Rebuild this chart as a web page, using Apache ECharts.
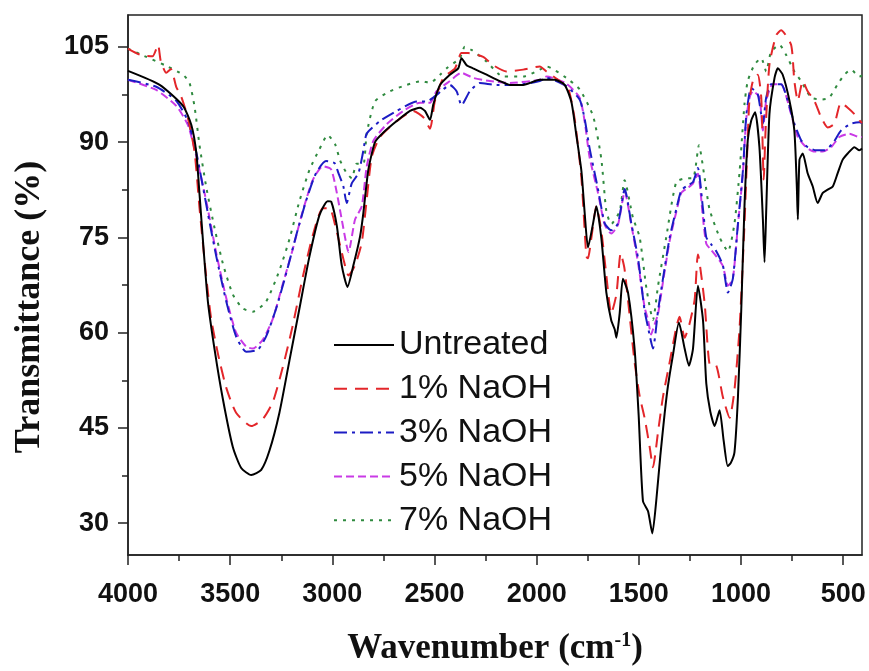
<!DOCTYPE html>
<html>
<head>
<meta charset="utf-8">
<script src="https://cdn.jsdelivr.net/npm/echarts@6/dist/echarts.min.js"></script>
<style>
html,body{margin:0;padding:0;background:#fff;}
#chart{width:869px;height:671px;}
</style>
</head>
<body>
<div id="chart"></div>
<script>
const seriesNames = ['Untreated', '1% NaOH', '3% NaOH', '5% NaOH', '7% NaOH'];
const xMajorTicks = [4000, 3500, 3000, 2500, 2000, 1500, 1000, 500];
const xMinorTicks = [3750, 3250, 2750, 2250, 1750, 1250, 750];
const yMajorTicks = [30, 45, 60, 75, 90, 105];
const yMinorTicks = [37.5, 52.5, 67.5, 82.5, 97.5];

const untreated = [[4000,101.2],[3845,99.0],[3731,95.7],[3690,92.7],[3666,88.4],[3650,81.8],[3630,73.1],[3609,64.9],[3576,57.3],[3536,49.6],[3487,42.0],[3446,38.7],[3397,37.6],[3348,38.4],[3308,41.4],[3259,47.4],[3210,55.6],[3161,63.8],[3112,72.0],[3063,78.5],[3023,80.7],[3005,80.6],[2978,76.8],[2954,70.6],[2926,67.2],[2897,70.6],[2864,75.2],[2848,78.9],[2824,85.6],[2791,90.0],[2750,91.5],[2685,93.3],[2620,94.9],[2571,95.4],[2547,94.9],[2522,93.5],[2506,95.9],[2473,99.0],[2425,100.6],[2384,101.6],[2368,103.2],[2343,102.1],[2311,101.6],[2245,100.6],[2180,99.6],[2131,99.0],[2066,99.0],[1985,99.8],[1912,99.8],[1863,99.0],[1830,96.3],[1806,91.1],[1781,85.4],[1765,78.8],[1749,73.4],[1724,77.2],[1708,79.9],[1684,75.0],[1659,66.3],[1635,61.9],[1618,60.5],[1610,59.2],[1594,63.0],[1578,68.5],[1553,66.3],[1521,57.5],[1501,47.0],[1480,33.5],[1455,31.9],[1434,28.4],[1415,33.5],[1395,40.6],[1374,47.2],[1358,51.5],[1333,56.5],[1304,61.6],[1276,57.5],[1255,54.8],[1235,57.5],[1211,67.4],[1186,61.9],[1170,52.0],[1150,47.5],[1129,45.3],[1105,47.8],[1085,43.0],[1065,39.0],[1050,39.5],[1032,41.2],[1015,49.9],[999,63.5],[983,80.0],[967,90.3],[950,93.4],[931,94.7],[910,89.2],[893,77.8],[885,71.1],[877,78.9],[861,94.4],[836,100.1],[820,101.6],[796,100.6],[763,96.5],[739,91.8],[727,83.0],[722,77.8],[714,87.2],[698,88.2],[674,85.1],[649,83.0],[625,80.4],[600,82.0],[576,82.5],[551,83.0],[527,85.1],[503,87.2],[478,88.2],[445,89.2],[421,88.7],[408,89.0]];

const naoh1 = [[4000,104.7],[3960,104.0],[3927,103.6],[3880,103.5],[3853,105.3],[3840,102.8],[3813,100.9],[3790,101.5],[3764,98.7],[3739,97.1],[3707,93.8],[3674,88.4],[3650,79.6],[3617,68.7],[3593,62.2],[3560,56.7],[3519,51.3],[3471,47.4],[3397,45.3],[3340,46.4],[3291,49.1],[3243,54.5],[3194,61.1],[3145,68.7],[3096,75.3],[3047,79.6],[3014,79.6],[2978,75.8],[2946,71.6],[2921,69.0],[2889,70.6],[2856,74.2],[2832,80.9],[2807,87.7],[2767,90.8],[2685,93.3],[2604,94.9],[2555,93.9],[2522,92.1],[2498,96.5],[2457,100.1],[2400,101.6],[2368,104.0],[2335,104.0],[2262,103.4],[2213,102.1],[2148,101.1],[2066,101.4],[1985,101.9],[1952,101.1],[1887,99.6],[1846,98.5],[1814,93.6],[1781,84.3],[1757,72.0],[1749,71.7],[1732,75.0],[1708,79.9],[1684,76.1],[1659,69.0],[1635,63.0],[1610,66.0],[1589,72.5],[1570,70.0],[1521,55.4],[1496,50.0],[1472,46.6],[1447,42.0],[1431,38.8],[1406,44.4],[1382,49.9],[1349,55.4],[1317,60.8],[1301,62.5],[1276,59.2],[1252,61.4],[1227,65.2],[1211,72.3],[1178,64.6],[1154,55.0],[1121,54.8],[1089,49.9],[1056,46.6],[1032,51.0],[1007,60.8],[983,77.2],[967,90.8],[959,96.5],[942,99.6],[918,100.6],[901,97.0],[889,84.1],[880,91.8],[861,102.2],[828,106.8],[804,107.6],[755,105.3],[739,99.6],[722,96.5],[698,99.6],[674,98.0],[641,96.5],[608,93.9],[576,92.3],[543,92.9],[511,96.2],[478,95.4],[445,94.4],[421,93.4],[408,93.0]];

const naoh3 = [[4000,99.8],[3862,98.7],[3764,96.5],[3707,93.3],[3666,88.4],[3633,82.9],[3601,77.4],[3568,72.0],[3519,64.9],[3471,59.4],[3422,57.0],[3365,57.3],[3324,59.4],[3275,63.8],[3226,69.3],[3177,75.3],[3129,80.7],[3080,85.1],[3031,87.0],[2990,86.7],[2970,85.1],[2946,83.0],[2930,80.4],[2905,83.5],[2872,85.1],[2848,88.7],[2832,91.3],[2767,93.3],[2685,94.9],[2587,96.4],[2539,96.4],[2506,97.0],[2457,98.3],[2425,99.0],[2392,98.0],[2368,95.8],[2327,98.0],[2278,99.3],[2197,99.0],[2099,99.0],[1985,99.6],[1952,100.1],[1855,98.8],[1790,96.7],[1765,93.6],[1741,89.0],[1700,82.6],[1667,77.2],[1635,76.1],[1602,77.2],[1569,82.6],[1537,77.2],[1504,71.7],[1472,63.5],[1455,60.8],[1431,57.5],[1406,63.5],[1382,68.5],[1349,75.0],[1317,79.4],[1292,82.4],[1260,83.2],[1235,83.7],[1211,85.9],[1186,79.4],[1170,75.0],[1146,73.9],[1121,72.8],[1089,70.6],[1064,66.3],[1040,68.5],[1015,77.2],[991,85.4],[975,94.0],[960,97.5],[950,98.5],[918,97.5],[893,92.9],[877,97.0],[853,99.1],[804,99.1],[771,96.5],[739,92.9],[706,90.3],[674,89.2],[633,88.7],[592,88.7],[551,89.8],[511,91.8],[462,92.9],[421,93.1],[408,93.0]];

const naoh5 = [[4000,99.8],[3862,98.2],[3764,95.7],[3707,92.7],[3666,87.8],[3617,80.7],[3568,72.5],[3519,65.4],[3471,60.0],[3422,57.8],[3389,57.5],[3340,58.9],[3291,62.2],[3243,67.6],[3194,73.1],[3145,79.1],[3096,84.0],[3047,86.2],[3006,85.7],[2978,82.0],[2954,77.8],[2930,73.7],[2921,72.7],[2889,77.8],[2856,79.9],[2832,86.1],[2799,90.2],[2734,92.8],[2653,94.9],[2571,96.2],[2522,96.2],[2490,98.0],[2425,99.6],[2368,100.9],[2311,100.1],[2229,99.6],[2131,99.3],[1985,99.8],[1952,100.3],[1855,99.2],[1790,97.0],[1765,93.2],[1741,87.6],[1700,82.0],[1667,77.0],[1635,75.6],[1602,77.0],[1569,82.2],[1537,77.0],[1504,71.0],[1472,64.0],[1455,62.0],[1440,59.7],[1431,60.5],[1406,63.0],[1382,68.0],[1349,74.5],[1317,79.0],[1292,82.0],[1260,82.8],[1235,83.5],[1211,85.0],[1186,78.0],[1170,74.0],[1146,73.0],[1121,72.0],[1089,70.5],[1064,67.4],[1040,68.5],[1015,77.0],[991,85.0],[975,93.5],[958,97.0],[942,98.0],[910,97.0],[893,91.8],[877,96.5],[845,99.1],[804,99.1],[755,94.4],[722,90.8],[682,89.2],[641,88.5],[600,88.5],[559,89.2],[519,90.8],[470,91.3],[421,90.8],[408,90.8]];

const naoh7 = [[4000,104.7],[3910,103.4],[3813,102.0],[3731,100.6],[3699,99.3],[3674,95.5],[3650,89.5],[3617,82.9],[3576,76.4],[3536,70.9],[3487,66.0],[3438,63.8],[3389,63.3],[3324,64.9],[3259,69.8],[3210,74.7],[3161,80.7],[3112,85.6],[3063,88.9],[3023,91.1],[2987,89.7],[2962,87.1],[2930,85.1],[2905,84.3],[2881,86.6],[2848,86.6],[2832,91.3],[2791,96.4],[2718,98.0],[2636,99.0],[2563,99.6],[2522,99.3],[2473,100.6],[2441,101.6],[2376,103.2],[2352,105.0],[2319,104.5],[2246,102.7],[2164,100.3],[2066,100.3],[1985,101.4],[1952,101.9],[1855,100.1],[1790,98.3],[1724,94.1],[1684,87.4],[1659,79.1],[1635,77.1],[1594,79.1],[1570,84.0],[1529,78.1],[1496,75.0],[1463,67.0],[1431,62.0],[1406,67.4],[1366,75.0],[1317,83.7],[1268,84.3],[1235,84.3],[1206,89.5],[1178,84.3],[1154,79.4],[1105,75.0],[1064,72.8],[1032,77.2],[1007,85.4],[983,96.0],[967,99.6],[934,102.2],[901,103.2],[877,101.1],[853,104.2],[812,105.3],[779,103.7],[739,101.1],[706,99.6],[657,97.0],[608,96.7],[568,97.0],[527,99.1],[494,100.6],[462,101.4],[421,100.3],[408,100.5]];

const seriesData = [untreated, naoh1, naoh3, naoh5, naoh7];
const seriesColors = ['#000000', '#e3262a', '#1c1cc4', '#c93ae6', '#2f8a3f'];
const seriesDash = ['solid', [13, 8], [13, 5, 3, 5], [8, 4], [3, 6]];

const axisColor = '#222';
const xMin = 408, xMax = 4000, yMin = 25, yMax = 110;
const plainLabel = v => String(v);

const chart = echarts.init(document.getElementById('chart'), null, {renderer: 'canvas'});
chart.setOption({
  animation: false,
  backgroundColor: '#ffffff',
  grid: {left: 128, right: 7, top: 15, bottom: 109, show: true, borderColor: axisColor, borderWidth: 1.5},
  legend: {
    orient: 'vertical', left: 333, top: 328, padding: 0,
    itemWidth: 60, itemHeight: 14, itemGap: 9.8,
    itemStyle: {color: 'rgba(0,0,0,0)', borderColor: 'rgba(0,0,0,0)', borderWidth: 0, opacity: 0},
    lineStyle: {opacity: 1},
    textStyle: {fontSize: 34, fontFamily: 'Liberation Sans', color: '#111', lineHeight: 34},
    data: seriesNames
  },
  xAxis: [{
    type: 'value', inverse: true, min: xMin, max: xMax,
    axisLine: {show: true, lineStyle: {color: axisColor, width: 1.5}},
    axisTick: {show: true, inside: false, length: 10, customValues: xMajorTicks, lineStyle: {color: axisColor, width: 1.5}},
    axisLabel: {customValues: xMajorTicks, formatter: plainLabel, fontSize: 27, fontWeight: 'bold', fontFamily: 'Liberation Sans', color: '#111', margin: 26},
    splitLine: {show: false},
    name: 'Wavenumber (cm{sup|-1})', nameLocation: 'middle', nameGap: 76,
    nameTextStyle: {fontFamily: 'Liberation Serif', fontWeight: 'bold', fontSize: 35, color: '#111',
      rich: {sup: {fontFamily: 'Liberation Serif', fontWeight: 'bold', fontSize: 20, color: '#111', verticalAlign: 'top', padding: [0, 0, 14, 0]}}}
  }, {
    type: 'value', inverse: true, min: xMin, max: xMax, position: 'bottom',
    axisLine: {show: false},
    axisTick: {show: true, inside: false, length: 6, customValues: xMinorTicks, lineStyle: {color: axisColor, width: 1.5}},
    axisLabel: {show: false}, splitLine: {show: false}
  }],
  yAxis: [{
    type: 'value', min: yMin, max: yMax, position: 'left',
    axisLine: {show: true, lineStyle: {color: axisColor, width: 1.5}},
    axisTick: {show: true, inside: false, length: 10, customValues: yMajorTicks, lineStyle: {color: axisColor, width: 1.5}},
    axisLabel: {customValues: yMajorTicks, formatter: plainLabel, fontSize: 27, fontWeight: 'bold', fontFamily: 'Liberation Sans', color: '#111', margin: 19},
    splitLine: {show: false},
    name: 'Transmittance (%)', nameLocation: 'middle', nameRotate: 90, nameGap: 80,
    nameTextStyle: {fontFamily: 'Liberation Serif', fontWeight: 'bold', fontSize: 36, color: '#111', padding: [0, 44, 0, 0]}
  }, {
    type: 'value', min: yMin, max: yMax, position: 'left',
    axisLine: {show: false},
    axisTick: {show: true, inside: false, length: 6, customValues: yMinorTicks, lineStyle: {color: axisColor, width: 1.5}},
    axisLabel: {show: false}, splitLine: {show: false}
  }],
  series: seriesNames.map((name, i) => ({
    name: name, type: 'line', xAxisIndex: 0, yAxisIndex: 0,
    data: seriesData[i], symbol: 'none', showSymbol: false, smooth: 0.2,
    lineStyle: {color: seriesColors[i], width: 2, type: seriesDash[i]},
    itemStyle: {color: seriesColors[i]},
    z: 10 - i
  }))
});
</script>
</body>
</html>
